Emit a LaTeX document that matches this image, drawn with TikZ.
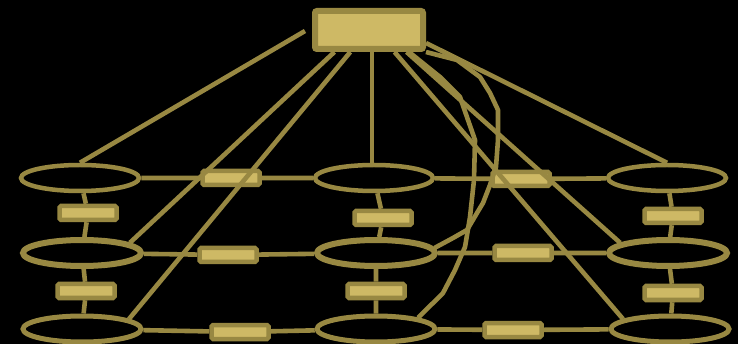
\documentclass[tikz,border=0pt]{standalone}
\usepackage{tikz}
\usetikzlibrary{shapes.geometric}
\definecolor{OL}{RGB}{152,136,66}
\definecolor{SD}{RGB}{206,185,101}

\begin{document}
\begin{tikzpicture}[
  x=1pt, y=-1pt,
  hubbox/.style={draw=OL, fill=SD, line width=6pt, rounded corners=2pt,
                 minimum width=108pt, minimum height=38pt, inner sep=0pt},
  oval/.style={ellipse, draw=OL, fill=black, line width=4.5pt,
               minimum width=118pt, minimum height=26pt, inner sep=0pt},
  chip/.style={draw=OL, fill=SD, line width=4.5pt, rounded corners=1.5pt,
               minimum width=57pt, minimum height=14pt, inner sep=0pt},
  link/.style={draw=OL, line width=4.6pt, line join=round}
]
\path[use as bounding box, fill=black] (0,0) rectangle (738,344);

\node[hubbox] (H) at (369,30) {};

\node[oval] (A1) at (80,178) {};
\node[oval] (A2) at (374,178) {};
\node[oval] (A3) at (667,178) {};
\node[oval, line width=6pt] (B1) at (82,253) {};
\node[oval, line width=6pt] (B2) at (376,253) {};
\node[oval, line width=6pt] (B3) at (668,253) {};
\node[oval, line width=5pt] (C1) at (82,329) {};
\node[oval, line width=5pt] (C2) at (376,329) {};
\node[oval, line width=5pt] (C3) at (670,329) {};

\node[chip] (hA1) at (231,178) {};
\node[chip] (hA2) at (521,179) {};
\node[chip] (hB1) at (228,255) {};
\node[chip] (hB2) at (523,253) {};
\node[chip] (hC1) at (240,332) {};
\node[chip] (hC2) at (513,330) {};
\node[chip] (v1a) at (88,213) {};
\node[chip] (v1b) at (86,291) {};
\node[chip] (v2a) at (383,218) {};
\node[chip] (v2b) at (376,291) {};
\node[chip] (v3a) at (673,216) {};
\node[chip] (v3b) at (673,293) {};

\draw[link] (A1) -- (hA1) -- (A2) -- (hA2) -- (A3);
\draw[link] (B1) -- (hB1) -- (B2) -- (hB2) -- (B3);
\draw[link] (C1) -- (hC1) -- (C2) -- (hC2) -- (C3);
\draw[link] (A1) -- (v1a) -- (B1) -- (v1b) -- (C1);
\draw[link] (A2) -- (v2a) -- (B2) -- (v2b) -- (C2);
\draw[link] (A3) -- (v3a) -- (B3) -- (v3b) -- (C3);

\coordinate (stub) at (305,31);
\draw[link] (stub) -- (A1.north);
\draw[link] ([xshift=-34.6pt]H.south) -- (B1.12);
\draw[link] ([xshift=-18.7pt]H.south) -- (C1.12);
\draw[link] ([xshift=3pt]H.south) -- ([xshift=-2pt]A2.north);
\draw[link] ([yshift=-13pt]H.east) -- (A3.north);
\draw[link] ([xshift=37.6pt]H.south) -- (B3.168);
\draw[link] ([xshift=25.5pt]H.south) -- (C3.168);
\draw[link] ([xshift=40pt]H.south) -- (440,77) -- (460,97) -- (468,120) -- (475,140) -- (474,180)
  -- (470,217) -- (465,247) -- (455,270) -- (443,293) -- (433,303) -- (C2.15);
\draw[link] (H.south east) -- (457,60) -- (480,77) -- (490,93) -- (498,110) -- (498,140) -- (496,167)
  -- (490,185) -- (483,203) -- (477,213) -- (467,230) -- (453,238) -- (B2.5);
\end{tikzpicture}
\end{document}
